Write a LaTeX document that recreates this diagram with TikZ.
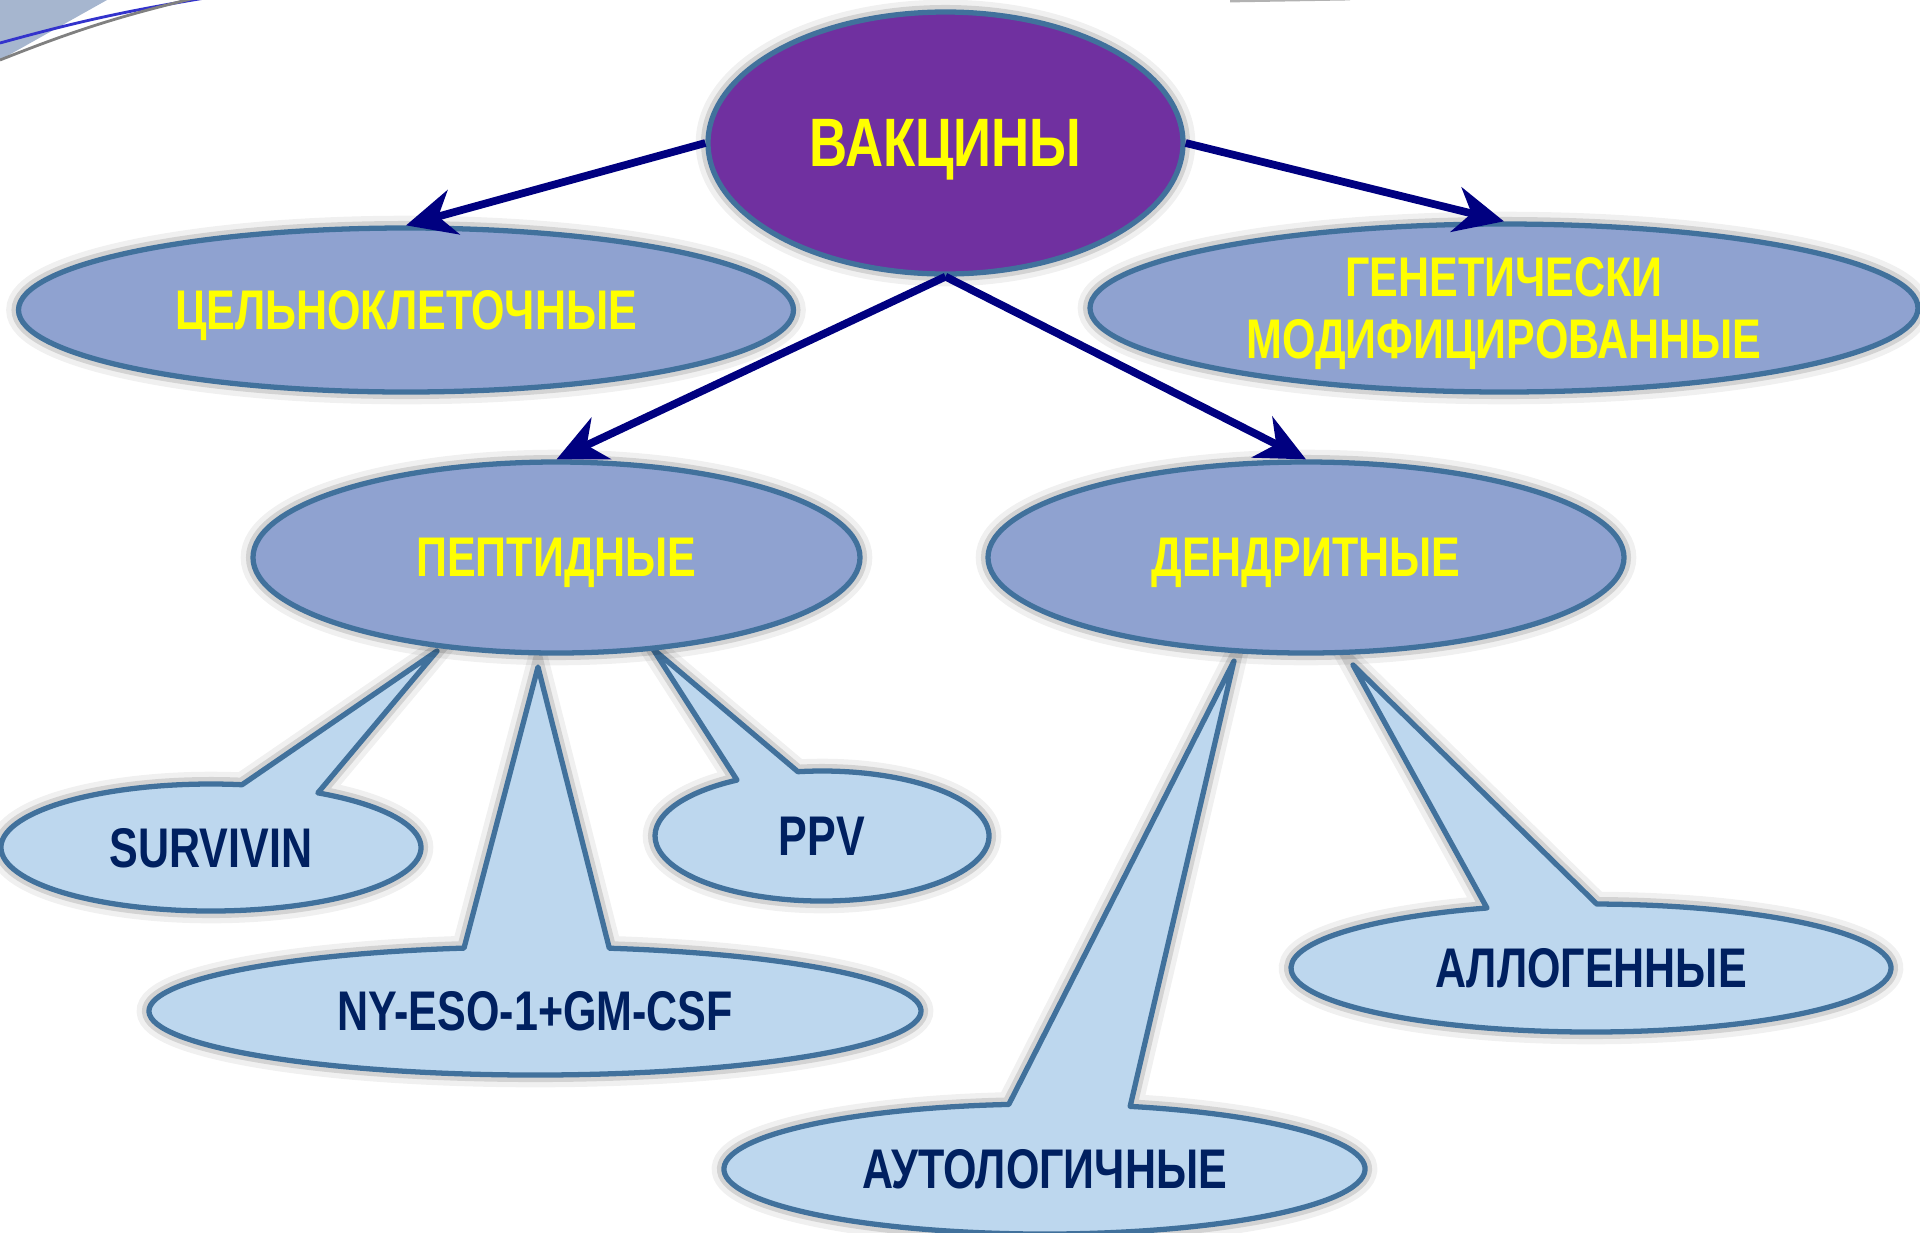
\documentclass[tikz,border=0pt]{standalone}
\usepackage{fontspec}
\setmainfont{Liberation Sans}[FakeStretch=0.77]
\usetikzlibrary{shapes.geometric}
\usetikzlibrary{arrows.meta, positioning}
\usetikzlibrary{backgrounds}
\definecolor{vacPurple}{RGB}{112, 48, 160}
\definecolor{edgeBlue}{RGB}{65, 113, 156}
\definecolor{midBlue}{RGB}{143, 162, 208}
\definecolor{lightBlue}{RGB}{189, 215, 238}
\definecolor{arrowNavy}{RGB}{0, 0, 128}
\definecolor{labelNavy}{RGB}{0, 32, 96}
\definecolor{labelYellow}{RGB}{255, 255, 0}
\definecolor{decoBlue}{RGB}{166, 182, 207}
\tikzset{
    glow/.style={preaction={draw=black, line width=7pt, draw opacity=0.06},
                 preaction={draw=black, line width=4pt, draw opacity=0.12}},
    topnode/.style={ellipse, inner sep=0pt, text depth=0pt, glow, fill=vacPurple, draw=edgeBlue,
                    line width=1.5pt, text=labelYellow, font=\bfseries\fontsize{19.5}{21}\selectfont},
    midnode/.style={ellipse, inner sep=0pt, text depth=0pt, glow, fill=midBlue, draw=edgeBlue,
                    line width=1.5pt, text=labelYellow, font=\bfseries\fontsize{15.9}{17.9}\selectfont},
    callshape/.style={glow, fill=lightBlue, draw=edgeBlue, line width=1.5pt, line join=round},
    calltext/.style={inner sep=0pt, text depth=0pt, text=labelNavy,
                     font=\bfseries\fontsize{15.9}{17.9}\selectfont},
    vacarrow/.style={draw=arrowNavy, line width=2.2pt,
                     -{Stealth[length=14pt, width=13pt, inset=4.5pt]}}
}

\begin{document}
\begin{tikzpicture}
    \useasboundingbox (0,0) rectangle (19.2,-12.32);

    % corner decoration
    \fill[decoBlue] (0,0) -- (1.07,0) -- (0,-0.60) -- cycle;
    \draw[blue!60!gray, line width=0.8pt] (0,-0.43) to[bend left=3] (2.05,0.02);
    \draw[gray, line width=0.8pt] (0,-0.60) to[bend left=4] (1.95,0.02);
    \draw[gray!60, line width=0.8pt] (12.3,-0.01) -- (13.5,0.01);

    % main ellipses
    \node[topnode, minimum width=4.75cm, minimum height=2.62cm] (vac) at (9.455,-1.43) {ВАКЦИНЫ};
    \node[midnode, minimum width=7.75cm, minimum height=1.64cm] (cel) at (4.06,-3.10) {ЦЕЛЬНОКЛЕТОЧНЫЕ};
    \node[midnode, minimum width=8.28cm, minimum height=1.68cm, align=center] (gen) at (15.04,-3.08)
        {ГЕНЕТИЧЕСКИ\\МОДИФИЦИРОВАННЫЕ};
    \node[midnode, minimum width=6.07cm, minimum height=1.91cm] (pep) at (5.565,-5.575) {ПЕПТИДНЫЕ};
    \node[midnode, minimum width=6.36cm, minimum height=1.91cm] (den) at (13.06,-5.575) {ДЕНДРИТНЫЕ};

    % callout labels
    \node[calltext] (sv) at (2.11,-8.475) {SURVIVIN};
    \node[calltext] (ppv) at (8.22,-8.36) {PPV};
    \node[calltext] (ny) at (5.35,-10.11) {NY-ESO-1+GM-CSF};
    \node[calltext] (allo) at (15.91,-9.68) {АЛЛОГЕННЫЕ};
    \node[calltext] (auto) at (10.445,-11.69) {АУТОЛОГИЧНЫЕ};

    \coordinate (svtip) at (4.37,-6.51);
    \coordinate (ppvtip) at (6.53,-6.49);
    \coordinate (nytip) at (5.38,-6.67);
    \coordinate (allotip) at (13.53,-6.65);
    \coordinate (autotip) at (12.34,-6.61);

    % callout bubbles
    \begin{scope}[on background layer]
        \draw[callshape] (sv.center) ++(59.4:2.10 and 0.635)
            arc[start angle=59.4, end angle=-278.5, x radius=2.10, y radius=0.635] -- (svtip) -- cycle;
        \draw[callshape] (ppv.center) ++(98.3:1.67 and 0.65)
            arc[start angle=98.3, end angle=-239.4, x radius=1.67, y radius=0.65] -- (ppvtip) -- cycle;
        \draw[callshape] (ny.center) ++(78.9:3.86 and 0.64)
            arc[start angle=78.9, end angle=-259.4, x radius=3.86, y radius=0.64] -- (nytip) -- cycle;
        \draw[callshape] (allo.center) ++(88.9:3.00 and 0.64)
            arc[start angle=88.9, end angle=-249.7, x radius=3.00, y radius=0.64] -- (allotip) -- cycle;
        \draw[callshape] (auto.center) ++(74.5:3.205 and 0.65)
            arc[start angle=74.5, end angle=-263.6, x radius=3.205, y radius=0.65] -- (autotip) -- cycle;
    \end{scope}

    % arrows
    \draw[vacarrow] (vac.west) -- (cel.north);
    \draw[vacarrow] (vac.east) -- (gen.north);
    \draw[vacarrow] (vac.south) -- (pep.north);
    \draw[vacarrow] (vac.south) -- (den.north);
\end{tikzpicture}
\end{document}
